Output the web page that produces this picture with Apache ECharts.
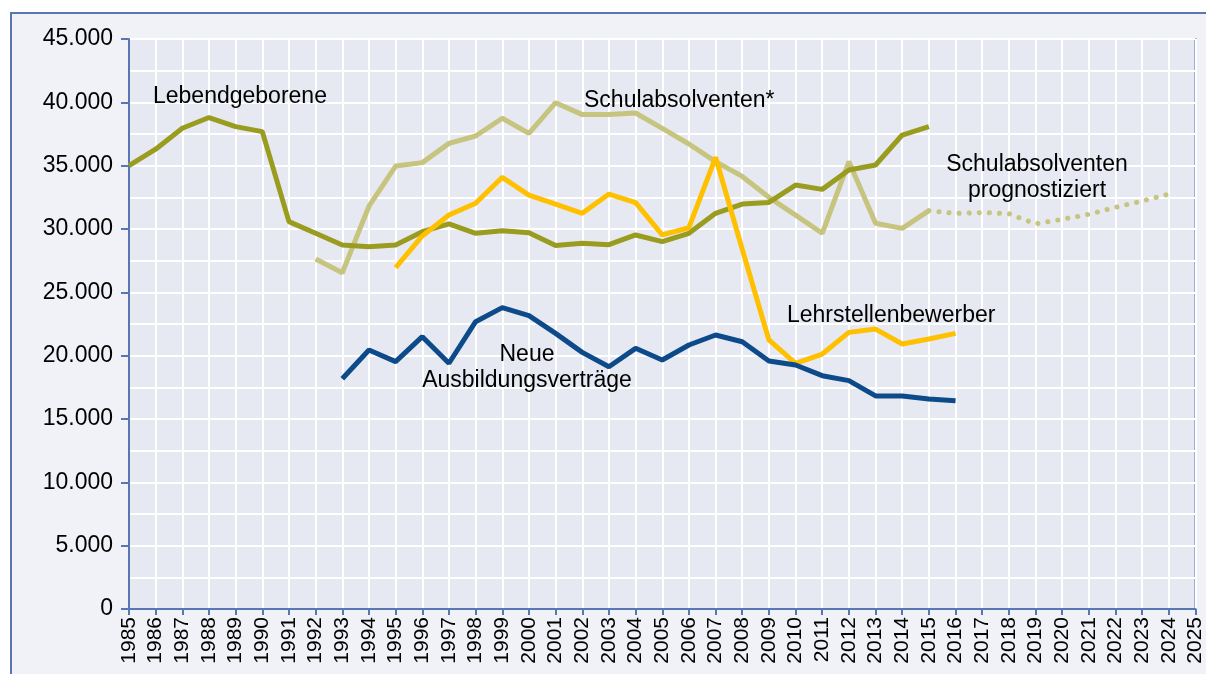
<!DOCTYPE html>
<html>
<head>
<meta charset="utf-8">
<script src="https://cdn.jsdelivr.net/npm/echarts@6/dist/echarts.min.js"></script>
<style>
  html, body { margin: 0; padding: 0; background: #ffffff; }
  #chartLineBox { width: 1206px; height: 674px; }
</style>
</head>
<body>
<div id="chartLineBox"></div>
<script>
// Jahre (x-Achse)
var years = [];
for (var y = 1985; y <= 2025; y++) years.push(String(y));

var yTicks = [0, 5000, 10000, 15000, 20000, 25000, 30000, 35000, 40000, 45000];

// Lebendgeborene 1985-2015
var lebendgeborene = [35000, 36300, 37950, 38800, 38080, 37690, 30580, 29660, 28740, 28600,
  28740, 29790, 30400, 29660, 29870, 29710, 28690, 28870, 28760, 29530,
  29000, 29660, 31240, 31970, 32100, 33470, 33130, 34660, 35050, 37420, 38080];

// Schulabsolventen* 1992-2015
var schulabsolventen = [27630, 26550, 31800, 34970, 35240, 36760, 37340, 38740, 37550, 39970,
  39030, 39030, 39160, 37950, 36710, 35320, 34150, 32500, 31100, 29660,
  35320, 30450, 30050, 31450];

// Schulabsolventen prognostiziert 2015-2024
var prognose = [31450, 31230, 31300, 31210, 30400, 30760, 31160, 31710, 32210, 32750];

// Lehrstellenbewerber 1995-2016
var bewerber = [26950, 29450, 31100, 32030, 34080, 32680, 31970, 31240, 32760, 32080,
  29530, 30100, 35660, 28400, 21240, 19400, 20130, 21840, 22100, 20920, 21320, 21760];

// Neue Ausbildungsverträge 1993-2016
var vertraege = [18180, 20450, 19530, 21500, 19400, 22680, 23790, 23160, 21760, 20260,
  19130, 20580, 19660, 20840, 21630, 21100, 19580, 19260, 18420, 18030,
  16820, 16820, 16580, 16450];

// Reihe auf volle Jahresachse legen
function place(startYear, values) {
  var out = [];
  for (var i = 0; i < years.length; i++) {
    var k = Number(years[i]) - startYear;
    out.push(k >= 0 && k < values.length ? values[k] : null);
  }
  return out;
}

function fmt(v) {
  return String(v).replace(/\B(?=(\d{3})+(?!\d))/g, ".");
}

var blau = "#5677b1";
var schrift = "Liberation Sans, Arial, sans-serif";
var chartLine = echarts.init(document.getElementById("chartLineBox"));

function label(x, y, text, align) {
  return {
    type: "text", x: x, y: y, z: 100,
    style: {
      text: text, fill: "#000000", fontSize: 23, fontFamily: schrift,
      textAlign: align || "left", textVerticalAlign: "middle", lineHeight: 26
    }
  };
}

var option = {
  animation: false,
  backgroundColor: "#ffffff",
  graphic: [
    {
      type: "rect", z: -10, silent: true,
      shape: { x: 11, y: 13, width: 1220, height: 700 },
      style: { fill: "#f1f2f8", stroke: blau, lineWidth: 2 }
    },
    label(153, 97, "Lebendgeborene"),
    label(584, 101, "Schulabsolventen*"),
    label(1037, 178, "Schulabsolventen\nprognostiziert", "center"),
    label(787, 316, "Lehrstellenbewerber"),
    label(527, 368, "Neue\nAusbildungsverträge", "center")
  ],
  grid: {
    left: 129, top: 39, width: 1070, height: 570,
    show: true,
    backgroundColor: "#e6e9f2",
    borderColor: blau,
    borderWidth: 2
  },
  xAxis: {
    type: "category",
    data: years,
    boundaryGap: false,
    axisLine: { lineStyle: { color: blau, width: 2 } },
    axisTick: { show: true, interval: 0, length: 6, lineStyle: { color: blau, width: 2 } },
    axisLabel: {
      interval: 0, rotate: 90, color: "#000000", fontSize: 21, margin: 8,
      fontFamily: schrift
    },
    splitLine: { show: true, interval: 0, lineStyle: { color: "#ffffff", width: 2 } }
  },
  yAxis: {
    type: "value",
    min: yTicks[0],
    max: yTicks[yTicks.length - 1],
    interval: 5000,
    axisLine: { show: true, lineStyle: { color: blau, width: 2 } },
    axisTick: { show: true, length: 8, lineStyle: { color: blau, width: 2 } },
    axisLabel: {
      color: "#000000", fontSize: 23, margin: 16,
      fontFamily: schrift,
      formatter: function (v) { return fmt(v); }
    },
    splitLine: { show: true, lineStyle: { color: "#ffffff", width: 2 } },
    minorTick: { show: false, splitNumber: 2 },
    minorSplitLine: { show: true, lineStyle: { color: "#ffffff", width: 2 } }
  },
  series: [
    {
      name: "Schulabsolventen prognostiziert", type: "line", data: place(2015, prognose),
      showSymbol: false, z: 2,
      lineStyle: { color: "#c6c47f", width: 5, type: [0.1, 10], cap: "round" }
    },
    {
      name: "Schulabsolventen*", type: "line", data: place(1992, schulabsolventen),
      showSymbol: false, z: 3,
      lineStyle: { color: "#c6c47f", width: 5 }
    },
    {
      name: "Lebendgeborene", type: "line", data: place(1985, lebendgeborene),
      showSymbol: false, z: 4,
      lineStyle: { color: "#9a9c1f", width: 5 }
    },
    {
      name: "Lehrstellenbewerber", type: "line", data: place(1995, bewerber),
      showSymbol: false, z: 5,
      lineStyle: { color: "#ffc000", width: 5 }
    },
    {
      name: "Neue Ausbildungsverträge", type: "line", data: place(1993, vertraege),
      showSymbol: false, z: 6,
      lineStyle: { color: "#0d4a8a", width: 5 }
    }
  ]
};

chartLine.setOption(option);
</script>
</body>
</html>
